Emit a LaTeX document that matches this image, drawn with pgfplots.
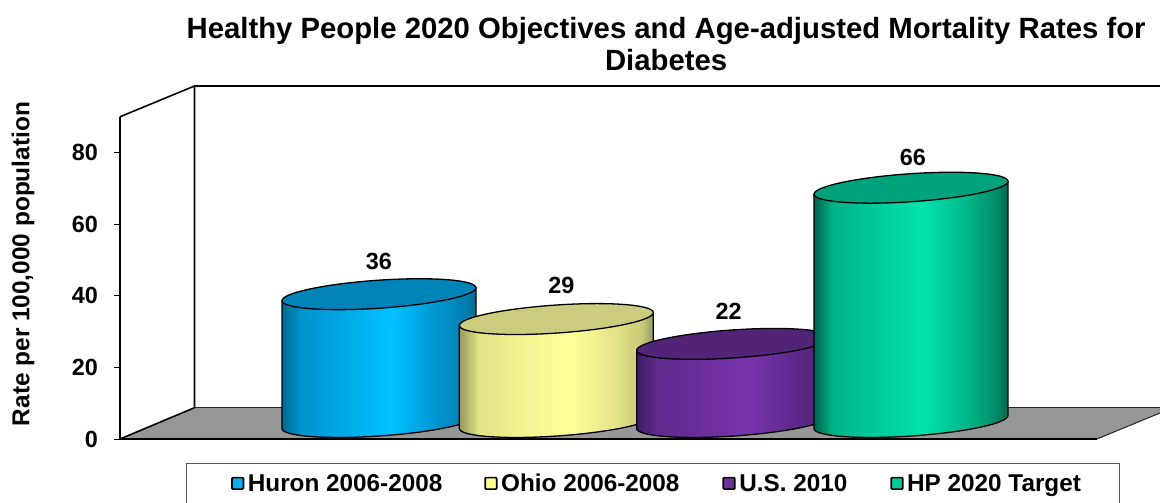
\documentclass[border=0pt]{standalone}
\usepackage{pgfplots}
\pgfplotsset{compat=1.18}
\usepackage{fontspec}
\setmainfont{Liberation Sans}

% body shadings: dark edges, bright band right of the centre
\newcommand{\cylshading}[5]{%
  \pgfdeclarehorizontalshading{#1}{100bp}{%
    color(0bp)=(#2); color(25bp)=(#2); color(30bp)=(#3); color(52bp)=(#4);
    color(54bp)=(#4); color(65bp)=(#3); color(72bp)=(#5); color(75bp)=(#2); color(100bp)=(#2)}}
\definecolor{huronE}{HTML}{006A92}\definecolor{huronM}{HTML}{0094CE}\definecolor{huronB}{HTML}{00BFFF}\definecolor{huronD}{HTML}{007FB0}\definecolor{huronT}{HTML}{0083B6}
\definecolor{ohioE}{HTML}{97975F}\definecolor{ohioM}{HTML}{E4E488}\definecolor{ohioB}{HTML}{FFFF99}\definecolor{ohioD}{HTML}{C8C878}\definecolor{ohioT}{HTML}{CCCC7E}
\definecolor{usE}{HTML}{3E1C5E}\definecolor{usM}{HTML}{5F2A8C}\definecolor{usB}{HTML}{7733AA}\definecolor{usD}{HTML}{52257A}\definecolor{usT}{HTML}{512478}
\definecolor{hpE}{HTML}{00644C}\definecolor{hpM}{HTML}{00B488}\definecolor{hpB}{HTML}{00E0A8}\definecolor{hpD}{HTML}{008A68}\definecolor{hpT}{HTML}{00A27C}
\cylshading{cylhuron}{huronE}{huronM}{huronB}{huronD}
\cylshading{cylohio}{ohioE}{ohioM}{ohioB}{ohioD}
\cylshading{cylus}{usE}{usM}{usB}{usD}
\cylshading{cylhp}{hpE}{hpM}{hpB}{hpD}

% point on the tilted ellipse plane: #1 along the long axis, #2 across it, #3 vertical offset
\newcommand{\tp}[3]{({(0.99768*(#1)-0.0680*(#2))*1pt},{(0.0680*(#1)+0.99768*(#2)+(#3))*1pt})}

% one cylinder, anchored on its data point; its height follows the plotted value
\newcommand{\cylinderat}[4]{%
  \pgfmathsetmacro{\cyltop}{17-0.03*\rawv}%
  \pgfmathsetmacro{\cylbot}{\cyltop-3.55*\rawv}%
  \shade[shading=#1, draw=black, line width=1.3pt, line join=round]
    \tp{-97.2}{0}{\cyltop} -- \tp{-97.2}{0}{\cylbot}
    .. controls \tp{-97.2}{-7.73}{\cylbot} and \tp{-53.7}{-14}{\cylbot} .. \tp{0}{-14}{\cylbot}
    .. controls \tp{53.7}{-14}{\cylbot} and \tp{97.2}{-7.73}{\cylbot} .. \tp{97.2}{0}{\cylbot}
    -- \tp{97.2}{0}{\cyltop} -- cycle;
  \filldraw[fill=#2, draw=black, line width=1.3pt]
    \tp{-97.2}{0}{\cyltop}
    .. controls \tp{-97.2}{-7.73}{\cyltop} and \tp{-53.7}{-14}{\cyltop} .. \tp{0}{-14}{\cyltop}
    .. controls \tp{53.7}{-14}{\cyltop} and \tp{97.2}{-7.73}{\cyltop} .. \tp{97.2}{0}{\cyltop}
    .. controls \tp{97.2}{7.73}{\cyltop} and \tp{53.7}{14}{\cyltop} .. \tp{0}{14}{\cyltop}
    .. controls \tp{-53.7}{14}{\cyltop} and \tp{-97.2}{7.73}{\cyltop} .. \tp{-97.2}{0}{\cyltop} -- cycle;
  \node[font=\fontsize{23.4}{26}\selectfont\bfseries, text=black] at (#3 pt,#4 pt) {\pgfmathprintnumber{\rawv}};
}
\pgfplotsset{
  cyl/.style n args={6}{
    scatter, only marks, mark=*, mark size=0pt, mark options={draw=none, fill=none},
    scatter src=y, visualization depends on={y \as \rawv},
    scatter/@pre marker code/.code={\scope\cylinderat{#1}{#2}{#5}{#6}},
    scatter/@post marker code/.code={\endscope},
    legend image code/.code={
      \path (-#4,0pt) (13.5pt,0pt);
      \draw[fill=#3, draw=black, line width=1.7pt, rounded corners=1pt]
        (0pt,-5.6pt) rectangle (11.5pt,5.9pt);}
  }
}
\definecolor{swhuron}{HTML}{00AEEF}
\definecolor{swohio}{HTML}{FFFF8F}
\definecolor{swus}{HTML}{7030A0}
\definecolor{swhp}{HTML}{00C896}

\begin{document}
\begin{tikzpicture}[x=1pt,y=1pt]
\useasboundingbox (0,0) rectangle (1160,503);
% floor and back wall of the plot box
\fill[black!41] (120,64) -- (194.5,95.3) -- (1160,95.3) -- (1160,90) -- (1097,64) -- cycle;
\draw[black!85, line width=1pt] (194.5,95.3) -- (1160,95.3);
\draw[black!85, line width=1pt] (1097,64) -- (1160,90);
\draw[black, line width=1.6pt, line join=round] (120,64) -- (194.5,95.3) -- (194.5,417) -- (1160,417);
\draw[black, line width=1.6pt, line join=round] (120,386.2) -- (194.5,417);
\begin{axis}[
  at={(120pt,64pt)}, anchor=south west,
  scale only axis, width=977pt, height=322.2pt,
  xmin=-1.4605, xmax=4.049, ymin=0, ymax=90,
  axis lines=left, axis line style={-, line width=1.6pt, black},
  clip=false,
  xtick=\empty, ytick={0,20,40,60,80},
  tickwidth=6pt, tick align=outside,
  y tick style={black, line width=0.8pt},
  /pgf/number format/assume math mode=true,
  y tick label style={font=\fontsize{23.4}{26}\selectfont\bfseries, inner sep=0pt, xshift=-16pt},
  ylabel={Rate per 100,000 population},
  ylabel style={at={(axis description cs:-0.0993,0.543)}, anchor=center,
    font=\fontsize{24.4}{28}\selectfont\bfseries},
  title={Healthy People 2020 Objectives and Age-adjusted Mortality Rates for\\Diabetes},
  title style={at={(axis description cs:0.559,1.207)}, anchor=center, align=center,
    font=\fontsize{29.3}{32}\selectfont\bfseries},
  legend style={at={(axis description cs:0.0676,-0.0745)}, anchor=north west,
    draw=black!65, line width=0.9pt, legend columns=4, inner xsep=37pt, inner ysep=8.5pt,
    font=\fontsize{24.3}{26}\selectfont\bfseries,
    /tikz/column 2/.style={column sep=40pt},
    /tikz/column 4/.style={column sep=41pt},
    /tikz/column 6/.style={column sep=41pt}},
  legend cell align=left,
]
\addplot[cyl={cylhuron}{huronT}{swhuron}{8pt}{0}{49}] coordinates {(0,36)};
\addlegendentry{Huron 2006-2008}
\addplot[cyl={cylohio}{ohioT}{swohio}{0pt}{5}{50}] coordinates {(1,29)};
\addlegendentry{Ohio 2006-2008}
\addplot[cyl={cylus}{usT}{swus}{0pt}{-5}{49}] coordinates {(2,22)};
\addlegendentry{U.S. 2010}
\addplot[cyl={cylhp}{hpT}{swhp}{0pt}{2}{45}] coordinates {(3,66)};
\addlegendentry{HP 2020 Target}
\end{axis}
\end{tikzpicture}
\end{document}
